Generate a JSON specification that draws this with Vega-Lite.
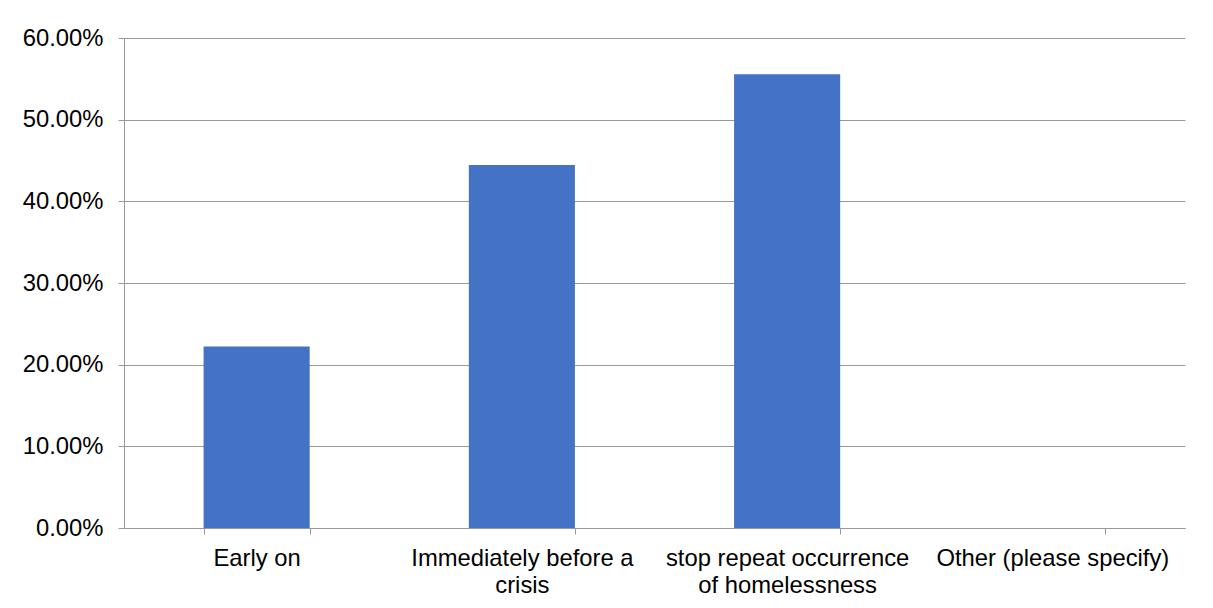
{
  "$schema": "https://vega.github.io/schema/vega-lite/v6.json",
  "width": 1061,
  "height": 490,
  "autosize": {"type": "none"},
  "padding": {"left": 124, "top": 38, "right": 28, "bottom": 80},
  "background": "white",
  "config": {
    "view": {"stroke": null},
    "font": "Liberation Sans",
    "axis": {"labelFont": "Liberation Sans", "labelColor": "#000000", "labelFontSize": 23.8}
  },
  "data": {
    "values": [
      {"response": "Early on", "pct": 0.2222},
      {"response": "Immediately before a crisis", "pct": 0.4444},
      {"response": "stop repeat occurrence of homelessness", "pct": 0.5556},
      {"response": "Other (please specify)", "pct": 0.0}
    ]
  },
  "mark": {"type": "bar", "color": "#4472C4"},
  "encoding": {
    "x": {
      "field": "response",
      "type": "nominal",
      "sort": null,
      "title": null,
      "scale": {"paddingInner": 0.6, "paddingOuter": 0.3},
      "axis": {
        "labelAngle": 0,
        "tickBand": "extent",
        "tickSize": 6,
        "tickColor": "#999999",
        "domainColor": "#999999",
        "labelPadding": 12,
        "labelLineHeight": 27,
        "labelBaseline": "top",
        "labelLimit": 0,
        "labelExpr": "datum.value == 'Immediately before a crisis' ? ['Immediately before a', 'crisis'] : datum.value == 'stop repeat occurrence of homelessness' ? ['stop repeat occurrence', 'of homelessness'] : datum.value"
      }
    },
    "y": {
      "field": "pct",
      "type": "quantitative",
      "title": null,
      "scale": {"domain": [0, 0.6], "nice": false},
      "axis": {
        "values": [0, 0.1, 0.2, 0.3, 0.4, 0.5, 0.6],
        "format": ".2%",
        "grid": true,
        "gridColor": "#999999",
        "tickColor": "#999999",
        "domainColor": "#999999",
        "tickSize": 6,
        "labelPadding": 15
      }
    }
  }
}
